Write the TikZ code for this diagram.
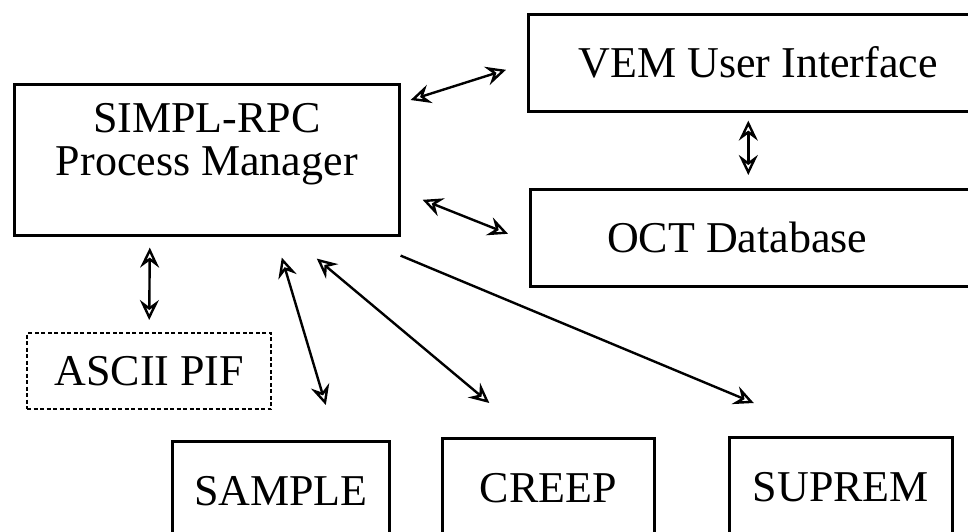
\documentclass[tikz,border=0pt]{standalone}
\usepackage{fontspec}
\setmainfont{Liberation Serif}
\usetikzlibrary{arrows.meta,positioning}

\begin{document}
\begin{tikzpicture}[
      x=1pt,y=-1pt,
      mybox/.style={
         rectangle,
         draw=black,
         line width=2.6pt,
         anchor=north west,
         inner sep=0pt,
         align=center,
         font=\fontsize{44}{43}\selectfont},
      mydashbox/.style={
         mybox,
         line width=2.4pt,
         dash pattern=on 4pt off 2.5pt},
      myarrow/.style={-{Stealth[open,length=20pt,width=19pt,inset=7pt]},line width=2.4pt},
      mydarrow/.style={{Stealth[open,length=20pt,width=19pt,inset=7pt]}-{Stealth[open,length=20pt,width=19pt,inset=7pt]},line width=2.4pt},
      ]
      \useasboundingbox (0,0) rectangle (968,532);
      \clip (0,0) rectangle (968,532);
      \node[mybox,minimum width=385,minimum height=151,text depth=40pt] (mgr) at (13,83) {SIMPL-RPC\\Process Manager};
      \node[mybox,minimum width=460,minimum height=97] (vem) at (527,13) {VEM User Interface};
      \node[mybox,minimum width=460,minimum height=97] (oct) at (529,188) {OCT Database\hspace*{46pt}};
      \node[mydashbox,minimum width=244,minimum height=76] (pif) at (26,332) {ASCII PIF};
      \node[mybox,minimum width=217,minimum height=100] (sample) at (171,440) {SAMPLE};
      \node[mybox,minimum width=212,minimum height=100] (creep) at (441,437) {CREEP};
      \node[mybox,minimum width=223,minimum height=100] (suprem) at (728,436) {SUPREM};
      \draw[mydarrow] ([shift={(10,17)}]mgr.north east) -- ([shift={(-21,7)}]vem.west);
      \draw[mydarrow] ([shift={(-10,8)}]vem.south) -- ([shift={(-12,-13)}]oct.north);
      \draw[mydarrow] ([shift={(22,40)}]mgr.east) -- ([shift={(-21,-4)}]oct.west);
      \draw[mydarrow] ([shift={(-57,11)}]mgr.south) -- ([shift={(0,-12)}]pif.north);
      \draw[mydarrow] ([shift={(75,21)}]mgr.south) -- ([shift={(45,-35)}]sample.north);
      \draw[mydarrow] ([shift={(110,22)}]mgr.south) -- ([shift={(-59,-34)}]creep.north);
      \draw[myarrow] ([shift={(0,19)}]mgr.south east) -- ([shift={(-87,-33)}]suprem.north);
\end{tikzpicture}
\end{document}
